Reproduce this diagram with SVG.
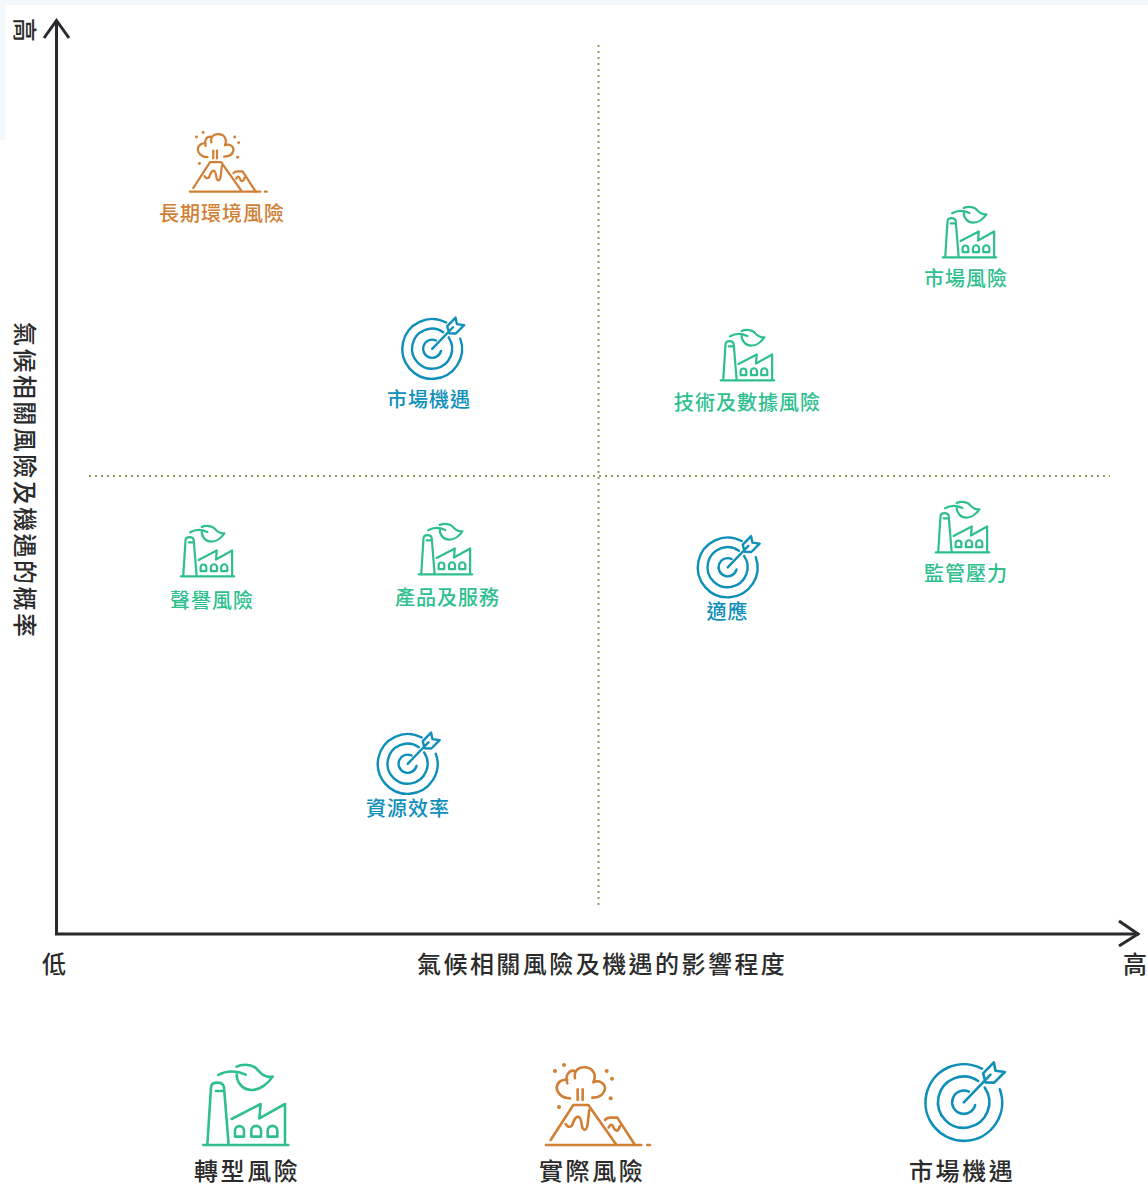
<svg xmlns="http://www.w3.org/2000/svg" width="1148" height="1189" viewBox="0 0 1148 1189">
<style>
text{font-family:"Noto Sans CJK TC","Noto Sans CJK SC",sans-serif;font-weight:500}
.ax{font-size:24px;fill:#2b2b2b;letter-spacing:2.45px}
.lg{letter-spacing:2.6px}
.l{font-size:20px;letter-spacing:1px}
.g{fill:#2fbf8f}.o{fill:#d17f35}.b{fill:#0d8fba}
.i{fill:none;stroke-linecap:round;stroke-linejoin:round}
.dot{fill:none;stroke:#8a9c5a;stroke-width:2;stroke-dasharray:2 4;}
.axis{fill:none;stroke:#2a2a2e;stroke-width:3;stroke-linejoin:miter}
.sf{stroke-width:10.500}.sv{stroke-width:9}.st{stroke-width:9.200}.big{stroke-width:7.800}
</style>
<defs>
<g id="factory" class="i" stroke="#2fbf8f" transform="scale(.3333)">
<path d="M70 285H325M82 285L93 112Q94 98 112 98Q130 98 132 112L146 285M108 123H133M155 207L242 162L238 205L315 162V285"/>
<path d="M165 260V242a13.500 13.500 0 0 1 27 0V260ZM214 260V242a14 14 0 0 1 29 0V260ZM263 260V242a14 14 0 0 1 29 0V260Z"/>
<path d="M115 75C140 60 172 62 197 74M170 72C170 100 190 120 215 120C240 120 265 100 278 80C250 85 240 65 225 52C210 42 185 42 170 50"/>
</g>
<g id="volcano" class="i" transform="scale(.3333)">
<g stroke="#d17f35">
<path d="M48 285H334M352 285H360M62 270L130 165H175L258 283"/>
<path d="M107 222Q115 235 125 228C132 215 133 200 145 200C156 202 153 225 158 235C165 245 172 235 173 222C175 205 176 195 178 180"/>
<path d="M225 210Q230 202 245 203H262L315 285M236 232Q245 215 252 235Q262 252 270 228"/>
<path d="M143 150V118M158 150V118M120 145C95 145 80 128 80 112C82 95 98 87 112 90M131 62C115 62 105 78 112 100M135 85C130 58 150 50 167 52C192 55 200 78 190 97C207 88 225 100 225 116C222 135 205 143 187 143"/>
</g>
<g fill="#d17f35"><circle cx="75" cy="63" r="6"/><circle cx="102" cy="45" r="6"/><circle cx="230" cy="63" r="6"/><circle cx="246" cy="86" r="6"/><circle cx="242" cy="145" r="6"/><circle cx="87" cy="171" r="6"/></g>
</g>
<g id="target" class="i" stroke="#0d8fba" transform="scale(.3333)">
<path d="M244 56A115 115 0 1 0 298 118"/>
<path d="M233 93A77 77 0 1 0 253 113"/>
<path d="M205 125A35 35 0 1 0 224 165"/>
<path d="M190 157L270 74M248 70L280 37L285 62L313 66L281 98L255 97Z"/>
</g>
</defs>
<rect width="1148" height="1189" fill="#fff"/>
<path d="M0 0H1148V5H5V140H0Z" fill="#f3f8fc"/>
<g id="connectors">
<path class="dot" d="M598.500 45V907"/>
<path class="dot" d="M89 476H1110"/>
<path class="axis" d="M56.500 20V934H1139"/>
<path class="axis" d="M44 38L56.500 20.500L69 38M1119 921L1138 934L1119 946"/>
</g>
<g id="axis-labels">
<text class="ax" x="417" y="973">氣候相關風險及機遇的影響程度</text>
<text class="ax" x="42" y="973">低</text>
<text class="ax" x="1123" y="973">高</text>
<text class="ax" transform="translate(15.500 322) rotate(90)">氣候相關風險及機遇的概率</text>
<text class="ax" transform="translate(15.500 18) rotate(90)">高</text>
</g>
<g id="n1"><use class="sv" href="#volcano" transform="translate(178 121.400) scale(.74)"/><text class="l o" x="159" y="220.500">長期環境風險</text></g>
<g id="n2"><use class="sf" href="#factory" transform="translate(928 197.500) scale(.63)"/><text class="l g" x="924" y="285.500">市場風險</text></g>
<g id="n3"><use class="st" href="#target" transform="translate(382.800 308) scale(.78)"/><text class="l b" x="387" y="406.500">市場機遇</text></g>
<g id="n4"><use class="sf" href="#factory" transform="translate(706 320.500) scale(.63)"/><text class="l g" x="674" y="409.500">技術及數據風險</text></g>
<g id="n5"><use class="sf" href="#factory" transform="translate(166 516.500) scale(.63)"/><text class="l g" x="170" y="607.500">聲譽風險</text></g>
<g id="n6"><use class="sf" href="#factory" transform="translate(404 514.500) scale(.63)"/><text class="l g" x="395" y="604.500">產品及服務</text></g>
<g id="n7"><use class="sf" href="#factory" transform="translate(921 492.500) scale(.63)"/><text class="l g" x="924" y="580.500">監管壓力</text></g>
<g id="n8"><use class="st" href="#target" transform="translate(678.300 526.500) scale(.78)"/><text class="l b" x="706.500" y="618.500">適應</text></g>
<g id="n9"><use class="st" href="#target" transform="translate(358.300 723) scale(.78)"/><text class="l b" x="366" y="815.500">資源效率</text></g>
<g id="legend-1"><use class="big" href="#factory" transform="translate(180 1050)"/><text class="ax lg" x="194" y="1180">轉型風險</text></g>
<g id="legend-2"><use class="big" href="#volcano" transform="translate(530 1050)"/><text class="ax lg" x="539" y="1180">實際風險</text></g>
<g id="legend-3"><use class="big" href="#target" transform="translate(900.500 1050)"/><text class="ax lg" x="909" y="1180">市場機遇</text></g>
</svg>
